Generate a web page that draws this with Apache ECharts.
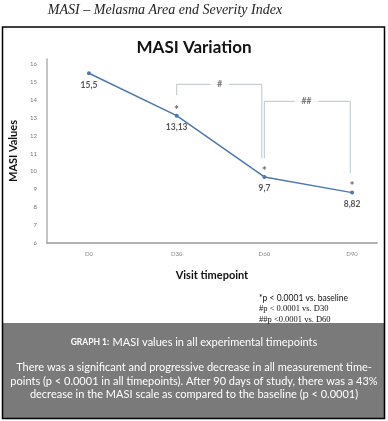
<!DOCTYPE html>
<html><head><meta charset="utf-8">
<script src="https://cdn.jsdelivr.net/npm/echarts@6/dist/echarts.min.js"></script>
<style>html,body{margin:0;padding:0;background:#fff}#c{width:388px;height:421px}</style>
</head><body><div id="c"></div>
<script>
const categories = ['D0', 'D30', 'D60', 'D90'];
const masiValues = [15.5, 13.13, 9.7, 8.82];
const sigMarks = ['', '*', '*', '*'];
const yTicks = [6, 7, 8, 9, 10, 11, 12, 13, 14, 15, 16];
// comparison brackets, in data units [timepoint index, MASI value]
const bracketD30D60 = [[1, 14.27], [1, 14.88], [1.97, 14.88], [1.97, 10.75]];
const bracketD60D90 = [[2, 10.75], [2, 13.93], [2.98, 13.93], [2.98, 9.91]];
const bracketLabelPos = [[1.49, 14.88], [2.48, 13.93]];
const bracketLabelText = ['#', '##'];
const footnotes = ['*p < 0.0001 vs. baseline', '#p < 0.0001 vs. D30', '##p <0.0001 vs. D60'];

const chart = echarts.init(document.getElementById('c'), null, {renderer: 'canvas'});
const sans = 'Lato';
const option = {
  animation: false,
  backgroundColor: '#fff',
  title: {
    text: 'MASI Variation', left: 'center', top: 34,
    textStyle: {fontFamily: sans, fontWeight: 'bold', fontSize: 17, color: '#111'}
  },
  grid: {left: 32, right: 11, top: 59, bottom: 178},
  xAxis: {
    type: 'value', min: -0.48, max: 3.284,
    name: 'Visit timepoint', nameLocation: 'middle', nameGap: 27,
    nameTextStyle: {fontFamily: sans, fontWeight: 'bold', fontSize: 11, color: '#111'},
    axisLine: {show: true, onZero: false, lineStyle: {color: '#9a9a9a', width: 1.5}},
    axisTick: {show: false},
    splitLine: {show: false},
    axisLabel: {
      customValues: [0, 1, 2, 3],
      formatter: v => categories[Math.round(v)] || '',
      fontFamily: sans, fontSize: 6, color: '#888', margin: 8
    }
  },
  yAxis: {
    type: 'value', min: 6, max: 16.3,
    name: 'MASI Values', nameLocation: 'middle', nameGap: 17, nameRotate: 90,
    nameTextStyle: {fontFamily: sans, fontWeight: 'bold', fontSize: 11, color: '#111'},
    axisLine: {show: true, onZero: false, lineStyle: {color: '#b0b0b0', width: 1.5}},
    axisTick: {show: false},
    splitLine: {show: false},
    axisLabel: {
      customValues: yTicks,
      fontFamily: sans, fontSize: 6, color: '#777', margin: 10
    }
  },
  series: [
    {
      type: 'line', data: bracketD30D60, symbol: 'none', silent: true, z: 1,
      lineStyle: {color: '#c8cfd3', width: 1.2}
    },
    {
      type: 'line', data: bracketD60D90, symbol: 'none', silent: true, z: 1,
      lineStyle: {color: '#c8cfd3', width: 1.2}
    },
    {
      type: 'scatter', data: bracketLabelPos, symbolSize: 0, silent: true, z: 3,
      label: {
        show: true, position: 'inside',
        formatter: p => bracketLabelText[p.dataIndex],
        backgroundColor: '#fff', padding: [1, 7],
        fontFamily: sans, fontSize: 8.5, color: '#555', fontWeight: 'bold'
      }
    },
    {
      type: 'line', data: masiValues.map((v, i) => [i, v]), z: 4,
      symbol: 'circle', symbolSize: 4,
      itemStyle: {color: '#4a78b0'},
      lineStyle: {color: '#4a78b0', width: 1.5},
      label: {
        show: true, position: 'bottom', distance: 5,
        formatter: p => String(p.value[1]).replace('.', ','),
        fontFamily: sans, fontSize: 8.5, fontWeight: 'bold', color: '#555'
      }
    },
    {
      type: 'scatter', data: masiValues.map((v, i) => [i, v]), symbolSize: 0, silent: true, z: 4,
      label: {
        show: true, position: 'top', distance: 0,
        formatter: p => sigMarks[p.dataIndex],
        fontFamily: sans, fontSize: 12, fontWeight: 'bold', color: '#444'
      }
    }
  ],
  graphic: [
    {
      type: 'text', x: 165, y: 10,
      style: {text: 'MASI – Melasma Area end Severity Index', align: 'center', verticalAlign: 'middle',
        fontFamily: 'Liberation Serif', fontStyle: 'italic', fontSize: 14, fill: '#222'}
    },
    {
      type: 'rect', shape: {x: 3, y: 323, width: 381, height: 95}, z: -1,
      style: {fill: '#7a7a7a'}
    },
    {
      type: 'rect', shape: {x: 2.5, y: 27, width: 382, height: 391.5},
      style: {fill: 'none', stroke: '#000', lineWidth: 1.5}
    },
    {
      type: 'text', x: 194, y: 342,
      style: {
        text: '{sc|GRAPH 1:} {n|MASI values in all experimental timepoints}',
        align: 'center', verticalAlign: 'middle',
        rich: {
          sc: {fontFamily: sans, fontWeight: 'bold', fontSize: 8.5, fill: '#fff'},
          n: {fontFamily: sans, fontSize: 11, fill: '#fff'}
        }
      }
    },
    {
      type: 'text', x: 194, y: 381,
      style: {
        text: 'There was a significant and progressive decrease in all measurement time-\npoints (p < 0.0001 in all timepoints). After 90 days of study, there was a 43%\ndecrease in the MASI scale as compared to the baseline (p < 0.0001)',
        align: 'center', verticalAlign: 'middle', lineHeight: 13.5,
        fontFamily: sans, fontSize: 11, fill: '#fff'
      }
    },
    {
      type: 'text', x: 259, y: 298,
      style: {text: footnotes[0], align: 'left', verticalAlign: 'middle',
        fontFamily: sans, fontSize: 8.5, fill: '#111'}
    },
    {
      type: 'text', x: 259, y: 309,
      style: {text: footnotes[1], align: 'left', verticalAlign: 'middle',
        fontFamily: 'Liberation Serif', fontSize: 8.5, fill: '#111'}
    },
    {
      type: 'text', x: 259, y: 320,
      style: {text: footnotes[2], align: 'left', verticalAlign: 'middle',
        fontFamily: 'Liberation Serif', fontSize: 8.5, fill: '#111'}
    }
  ]
};
chart.setOption(option);
</script>
</body></html>
